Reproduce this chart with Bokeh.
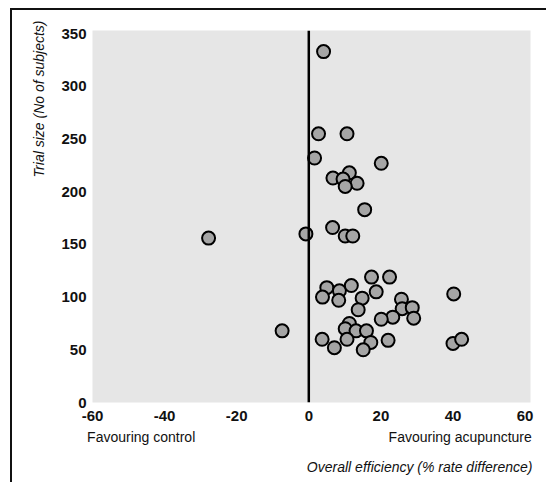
from bokeh.plotting import figure
from bokeh.models import ColumnDataSource, Span, FixedTicker, Range1d, LinearAxis, Title
from bokeh.embed import file_html
from bokeh.resources import INLINE

# Overall efficiency (% rate difference) and trial size (No of subjects)
rate_diff = [4.1, 2.7, 10.6, 1.6, 20.1, 6.7, 11.25, 9.5, 13.4, 10.1, 15.5, 6.6, -0.8, 10.1, 12.2, -27.8,
             17.4, 22.4, 5.0, 8.5, 11.8, 3.8, 8.3, 18.7, 14.8, 13.7, 25.7, 25.9, 23.3, 20.1, 11.25, 10.1,
             13.1, 16.0, 10.6, 17.2, 3.7, 7.1, 15.1, 22.0, 28.7, 29.1, 40.2, 40.0, 42.4, -7.4]
trial_size = [333, 255, 255, 232, 227, 213, 218, 212, 208, 205, 183, 166, 160, 158, 158, 156,
              119, 119, 109, 106, 111, 100, 97, 105, 99, 88, 98, 89, 81, 79, 75, 70,
              68, 68, 60, 57, 60, 52, 50, 59, 90, 80, 103, 56, 60, 68]

x_ticks = [-60, -40, -20, 0, 20, 40, 60]
x_tick_labels = ["-60", "-40", "-20", "0", "20", "40", "60"]
y_ticks = [0, 50, 100, 150, 200, 250, 300, 350]

x_title = "Overall efficiency (% rate difference)"
y_title = "Trial size (No of subjects)"
side_positions = [-46.5, 42]
side_notes = ["Favouring control", "Favouring acupuncture"]

FONT = "Liberation Sans"

p = figure(width=536, height=474, output_backend="svg", toolbar_location=None,
           x_range=Range1d(-60, 61.5), y_range=Range1d(0, 353),
           min_border_left=80, min_border_right=18, min_border_top=20, min_border_bottom=30)
p.styles = {"border-top": "2px solid #111", "border-left": "2px solid #111",
            "margin-left": "10px", "margin-top": "8px"}

p.background_fill_color = "#e6e6e6"
p.border_fill_color = "white"
p.outline_line_color = None
p.xgrid.grid_line_color = None
p.ygrid.grid_line_color = None

for ax in (p.xaxis[0], p.yaxis[0]):
    ax.axis_line_color = None
    ax.major_tick_line_color = None
    ax.minor_tick_line_color = None
    ax.major_label_text_font = FONT
    ax.major_label_text_font_size = "15px"
    ax.major_label_text_font_style = "bold"
    ax.major_label_text_color = "#111111"

p.xaxis[0].ticker = FixedTicker(ticks=x_ticks)
p.xaxis[0].major_label_overrides = {t: s for t, s in zip(x_ticks, x_tick_labels)}
p.yaxis[0].ticker = FixedTicker(ticks=y_ticks)
p.xaxis[0].major_label_standoff = 2
p.yaxis[0].major_label_standoff = 0

# side notes under the tick labels
notes_axis = LinearAxis(ticker=FixedTicker(ticks=side_positions),
                        major_label_overrides={t: s for t, s in zip(side_positions, side_notes)})
notes_axis.axis_line_color = None
notes_axis.major_tick_line_color = None
notes_axis.minor_tick_line_color = None
notes_axis.major_label_standoff = -1
notes_axis.major_label_text_font = FONT
notes_axis.major_label_text_font_size = "14px"
notes_axis.major_label_text_color = "#111111"
p.add_layout(notes_axis, "below")

p.add_layout(Title(text=x_title, align="right", text_font=FONT, text_font_size="14px",
                   text_font_style="italic", text_color="#111111", standoff=19, offset=-2), "below")
p.add_layout(Title(text=y_title, align="right", text_font=FONT, text_font_size="14px",
                   text_font_style="italic", text_color="#111111", standoff=23, offset=-10), "left")

p.add_layout(Span(location=0, dimension="height", line_color="black", line_width=2.5))

src = ColumnDataSource(dict(x=rate_diff, y=trial_size))
p.scatter("x", "y", source=src, size=13, fill_color="#a5a5a5", line_color="black", line_width=2)

open("out.html", "w").write(file_html(p, INLINE))
